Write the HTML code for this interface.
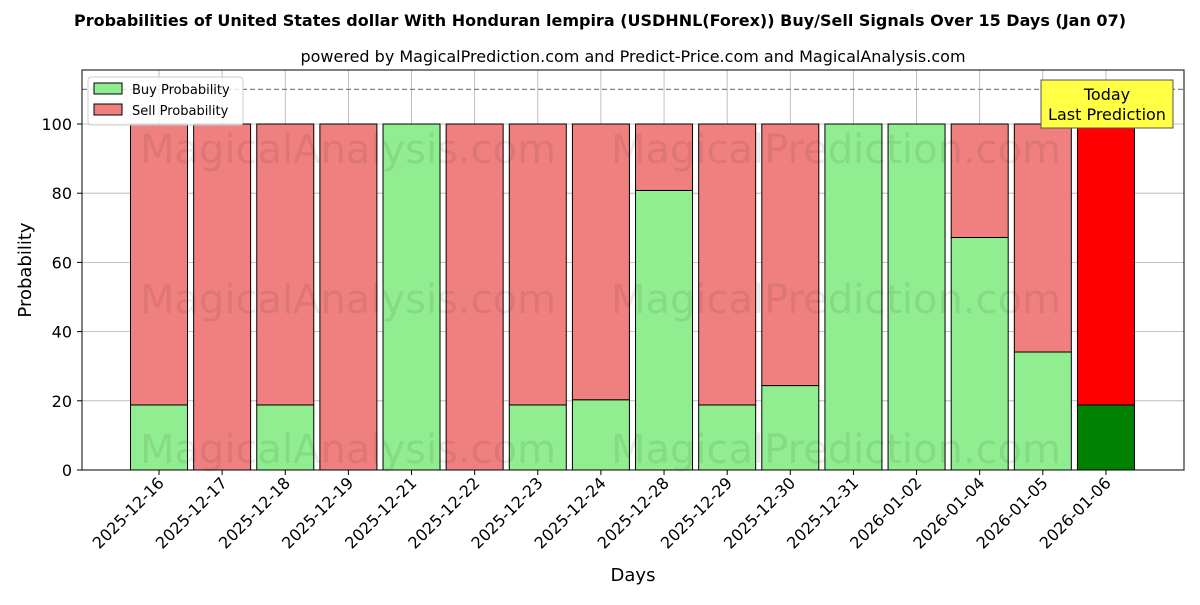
<!DOCTYPE html>
<html><head><meta charset="utf-8"><style>
body{margin:0;background:#fff;font-family:"Liberation Sans","DejaVu Sans",sans-serif}
</style></head><body>
<svg id="chart" width="1200" height="600" xmlns="http://www.w3.org/2000/svg" font-family="DejaVu Sans, Liberation Sans, sans-serif">
<rect width="1200" height="600" fill="#fff"/>
<text x="600" y="26" text-anchor="middle" font-size="16" font-weight="bold">Probabilities of United States dollar With Honduran lempira (USDHNL(Forex)) Buy/Sell Signals Over 15 Days (Jan 07)</text>
<text x="633" y="62" text-anchor="middle" font-size="16">powered by MagicalPrediction.com and Predict-Price.com and MagicalAnalysis.com</text>
<g id="grid"></g>
<g id="bars"></g>
<g id="wm" font-size="40" fill="#000" fill-opacity="0.08">
<text x="348" y="163" text-anchor="middle">MagicalAnalysis.com</text>
<text x="836" y="163" text-anchor="middle">MagicalPrediction.com</text>
<text x="348" y="313" text-anchor="middle">MagicalAnalysis.com</text>
<text x="836" y="313" text-anchor="middle">MagicalPrediction.com</text>
<text x="348" y="463" text-anchor="middle">MagicalAnalysis.com</text>
<text x="836" y="463" text-anchor="middle">MagicalPrediction.com</text>
</g>
<g id="axes"></g>
<rect x="82" y="70" width="1102" height="400" fill="none" stroke="#000" stroke-width="1"/>
<text transform="translate(31,270) rotate(-90)" text-anchor="middle" font-size="18">Probability</text>
<text x="633" y="581" text-anchor="middle" font-size="18">Days</text>
<g>
<rect x="88" y="77" width="155" height="48" rx="3" fill="#fff" fill-opacity="0.8" stroke="#ccc"/>
<rect x="94" y="83" width="28" height="11" fill="#90ee90" stroke="#000"/>
<text x="132" y="94" font-size="13">Buy Probability</text>
<rect x="94" y="104" width="28" height="11" fill="#f08080" stroke="#000"/>
<text x="132" y="115" font-size="13">Sell Probability</text>
</g>
<g>
<rect x="1041" y="80" width="132" height="48" fill="#ffff44" stroke="#555"/>
<text x="1107" y="100" text-anchor="middle" font-size="16">Today</text>
<text x="1107" y="120" text-anchor="middle" font-size="16">Last Prediction</text>
</g>
</svg>
<script>
const days=["2025-12-16","2025-12-17","2025-12-18","2025-12-19","2025-12-21","2025-12-22","2025-12-23","2025-12-24","2025-12-28","2025-12-29","2025-12-30","2025-12-31","2026-01-02","2026-01-04","2026-01-05","2026-01-06"];
const buy=[18.8,0,18.8,0,100,0,18.8,20.3,80.8,18.8,24.4,100,100,67.2,34.1,18.8];
const sell=[81.2,100,81.2,100,0,100,81.2,79.7,19.2,81.2,75.6,0,0,32.8,65.9,81.2];
const yTicks=[0,20,40,60,80,100];
const NS="http://www.w3.org/2000/svg";
const y=v=>470-v*3.46;
const x=i=>159+i*63.13;
const bw=57;
function mk(t,a,p){const e=document.createElementNS(NS,t);for(const k in a)e.setAttribute(k,a[k]);p.appendChild(e);return e;}
const grid=document.getElementById('grid'),bars=document.getElementById('bars'),axes=document.getElementById('axes');
yTicks.forEach(v=>{
 const l=mk('line',{x1:82,x2:1184,y1:y(v),y2:y(v),stroke:'#b0b0b0','stroke-width':0.8},grid);
 
 
 const t=mk('text',{x:72,y:y(v)+6,'text-anchor':'end','font-size':16},axes);
 t.textContent=v;
 
 
 mk('line',{x1:77,x2:82,y1:y(v),y2:y(v),stroke:'#000'},axes);
});
days.forEach((d,i)=>{
 const g=mk('line',{x1:x(i),x2:x(i),y1:70,y2:470,stroke:'#b0b0b0','stroke-width':0.8},grid);
 
 
 const last=i===days.length-1;
 const b=mk('rect',{x:x(i)-bw/2,y:y(buy[i]),width:bw,height:buy[i]*3.46,fill:last?'#008000':'#90ee90',stroke:'#000','stroke-width':1},bars);
 
 
 const s=mk('rect',{x:x(i)-bw/2,y:y(buy[i]+sell[i]),width:bw,height:sell[i]*3.46,fill:last?'#ff0000':'#f08080',stroke:'#000','stroke-width':1},bars);
 
 
 mk('line',{x1:x(i),x2:x(i),y1:470,y2:475,stroke:'#000'},axes);
 const t=mk('text',{transform:`translate(${x(i)+6},${484}) rotate(-45)`,'text-anchor':'end','font-size':16},axes);
 t.textContent=d;
 
 
});
const dl=mk('line',{x1:82,x2:1184,y1:y(110),y2:y(110),stroke:'#808080','stroke-width':1.3,'stroke-dasharray':'5,3'},grid);


</script>
</body></html>
